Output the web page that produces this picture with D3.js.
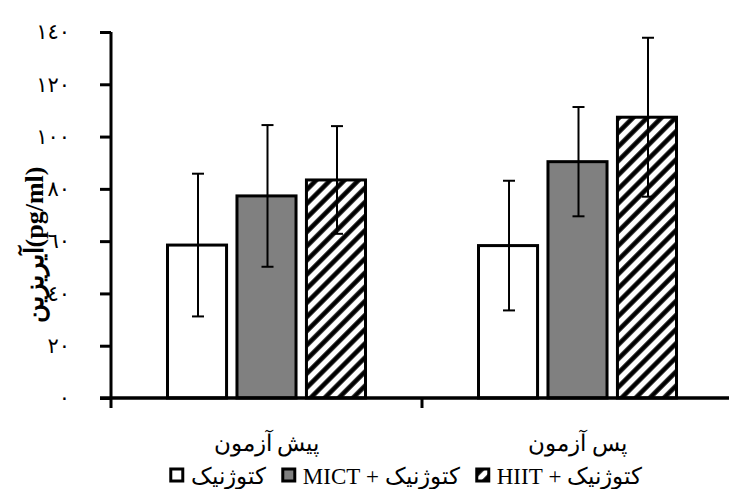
<!DOCTYPE html>
<html>
<head>
<meta charset="utf-8">
<script src="https://cdn.jsdelivr.net/npm/d3@7"></script>
<style>
  body { margin: 0; background: #fff; }
  svg { display: block; font-family: 'Liberation Serif', 'DejaVu Serif', serif; }
</style>
</head>
<body>
<svg id="chart" width="729" height="489"></svg>
<script>
// data
const categories = ["پیش آزمون", "پس آزمون"];
const seriesNames = ["کتوژنیک", "کتوژنیک + MICT", "کتوژنیک + HIIT"];
const ketoMean = [58.5, 58.3];
const ketoSd = [27.3, 24.8];
const mictMean = [77.3, 90.4];
const mictSd = [27.1, 20.9];
const hiitMean = [83.4, 107.4];
const hiitSd = [20.6, 30.4];
const yTicks = [0, 20, 40, 60, 80, 100, 120, 140];
const yTitle = "آیریزین(pg/ml)";

const means = [ketoMean, mictMean, hiitMean];
const sds = [ketoSd, mictSd, hiitSd];
const fills = ["#ffffff", "#808080", "url(#hatch)"];

const svg = d3.select("#chart");
const width = 729, height = 489;
const margin = {top: 32, right: -4, bottom: 91, left: 111};

// hatch pattern "/"
const defs = svg.append("defs");
defs.append("pattern")
    .attr("id", "hatch")
    .attr("patternUnits", "userSpaceOnUse")
    .attr("width", 10)
    .attr("height", 10)
    .attr("patternTransform", "rotate(45)")
    .call(p => {
        p.append("rect").attr("width", 10).attr("height", 10).attr("fill", "#fff");
        p.append("line").attr("x1", 2.5).attr("x2", 2.5).attr("y1", 0).attr("y2", 10)
            .attr("stroke", "#000").attr("stroke-width", 4.6);
    });

const x0 = d3.scaleBand()
    .domain(categories)
    .range([margin.left, width - margin.right])
    .padding(0);

const x1 = d3.scaleBand()
    .domain(seriesNames)
    .range([56.5, 254.5])
    .paddingInner(0.15)
    .paddingOuter(0);

const y = d3.scaleLinear()
    .domain([0, 140])
    .range([height - margin.bottom, margin.top]);

const toArabicDigits = n => String(n).replace(/\d/g, d => "٠١٢٣٤٥٦٧٨٩"[d]);

// y axis
const yAxis = svg.append("g")
    .attr("transform", "translate(" + margin.left + ",0)")
    .call(d3.axisLeft(y).tickValues(yTicks).tickSize(11).tickPadding(30)
        .tickFormat(toArabicDigits));
yAxis.select(".domain").attr("stroke", "#000").attr("stroke-width", 3)
    .attr("d", "M0," + y(140) + "V" + y(0));
yAxis.selectAll(".tick line").attr("stroke", "#000").attr("stroke-width", 3);
yAxis.selectAll(".tick text")
    .attr("fill", "#000")
    .style("font-size", "21px")
    .style("font-family", "'DejaVu Sans', sans-serif");

// bars
const rows = [];
categories.forEach((c, ci) => {
    seriesNames.forEach((s, si) => {
        rows.push({cat: c, name: s, si: si, value: means[si][ci], sd: sds[si][ci]});
    });
});

const groups = svg.selectAll(".slice")
    .data(categories)
    .enter().append("g")
    .attr("class", "slice")
    .attr("transform", d => "translate(" + x0(d) + ",0)");

groups.selectAll("rect")
    .data(c => rows.filter(r => r.cat === c))
    .enter().append("rect")
    .attr("x", d => x1(d.name))
    .attr("width", x1.bandwidth())
    .attr("y", d => y(d.value))
    .attr("height", d => y(0) - y(d.value))
    .attr("fill", d => fills[d.si])
    .attr("stroke", "#000")
    .attr("stroke-width", 3);

// error bars
const err = groups.selectAll(".err")
    .data(c => rows.filter(r => r.cat === c))
    .enter().append("g")
    .attr("class", "err")
    .attr("transform", d => "translate(" + (x1(d.name) + x1.bandwidth() / 2 + 1) + ",0)")
    .attr("stroke", "#000")
    .attr("stroke-width", 2);
err.append("line")
    .attr("y1", d => y(d.value + d.sd)).attr("y2", d => y(d.value - d.sd));
err.append("line")
    .attr("x1", -6).attr("x2", 6)
    .attr("y1", d => y(d.value + d.sd)).attr("y2", d => y(d.value + d.sd));
err.append("line")
    .attr("x1", -6).attr("x2", 6)
    .attr("y1", d => y(d.value - d.sd)).attr("y2", d => y(d.value - d.sd));

// x axis
const xAxis = svg.append("g");
xAxis.append("line")
    .attr("x1", margin.left - 11).attr("x2", width - margin.right)
    .attr("y1", y(0)).attr("y2", y(0))
    .attr("stroke", "#000").attr("stroke-width", 3.5);
const bounds = categories.map(c => x0(c)).concat([x0(categories[categories.length - 1]) + x0.bandwidth()]);
xAxis.selectAll(".xtick")
    .data(bounds)
    .enter().append("line")
    .attr("x1", d => d).attr("x2", d => d)
    .attr("y1", y(0)).attr("y2", y(0) + 10)
    .attr("stroke", "#000").attr("stroke-width", 3);
xAxis.selectAll(".xlabel")
    .data(categories)
    .enter().append("text")
    .attr("x", d => x0(d) + x0.bandwidth() / 2)
    .attr("y", 451)
    .attr("text-anchor", "middle")
    .style("font-size", "23px")
    .text(d => d);

// y title
svg.append("text")
    .attr("transform", "translate(43,245) rotate(-90)")
    .attr("text-anchor", "middle")
    .style("font-size", "26px")
    .style("font-weight", "bold")
    .text(yTitle);

// legend
const legend = svg.append("g").attr("class", "legend");
const items = legend.selectAll(".item")
    .data(seriesNames)
    .enter().append("g")
    .attr("class", "item");
items.append("rect")
    .attr("width", 12).attr("height", 12)
    .attr("y", 469)
    .attr("fill", (d, i) => fills[i])
    .attr("stroke", "#000")
    .attr("stroke-width", 3);
items.append("text")
    .attr("y", 484)
    .attr("text-anchor", "middle")
    .attr("direction", "rtl")
    .attr("unicode-bidi", "embed")
    .style("font-size", "23px")
    .text(d => d);

// lay out legend left to right, centred
const gapSq = 7, gapItem = 16;
const widths = items.nodes().map(n => d3.select(n).select("text").node().getComputedTextLength());
const total = d3.sum(widths) + seriesNames.length * (14 + gapSq) + (seriesNames.length - 1) * gapItem;
let cx = 406 - total / 2;
items.each(function(d, i) {
    const g = d3.select(this);
    g.select("rect").attr("x", cx + 1);
    g.select("text").attr("x", cx + 14 + gapSq + widths[i] / 2);
    cx += 14 + gapSq + widths[i] + gapItem;
});
</script>
</body>
</html>
